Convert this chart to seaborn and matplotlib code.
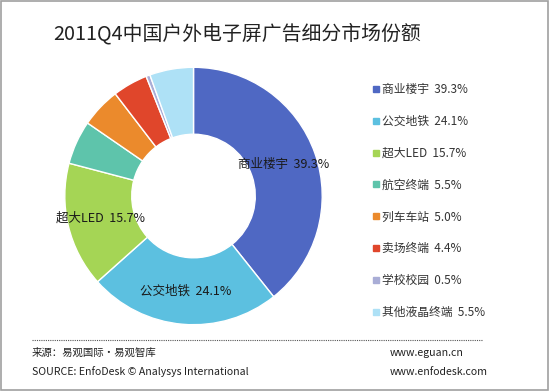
import numpy as np
import seaborn as sns
import matplotlib.pyplot as plt
from matplotlib.lines import Line2D
from matplotlib.patches import Rectangle

# data
categories = ['商业楼宇', '公交地铁', '超大LED', '航空终端', '列车车站', '卖场终端', '学校校园', '其他液晶终端']
shares = [39.3, 24.1, 15.7, 5.5, 5.0, 4.4, 0.5, 5.5]
colors = ['#4f68c3', '#5cc0e0', '#a5d555', '#5ec4ab', '#eb8a2c', '#e0462b', '#a9add6', '#aee1f6']
inner_labels = ['商业楼宇', '公交地铁', '超大LED']

sns.set_theme(style='white')
plt.rcParams['font.family'] = ['Noto Sans CJK SC', 'DejaVu Sans']

fig = plt.figure(figsize=(5.5, 3.91), dpi=100)
fig.patch.set_facecolor('white')

# outer frame
fig.add_artist(Rectangle((0.002, 0.003), 0.995, 0.994, transform=fig.transFigure,
                         fill=False, edgecolor='#a0a0a0', linewidth=1.2))

ax = fig.add_axes([0.1155, 0.1662, 0.4727, 0.665])
wedges, _ = ax.pie(shares, colors=colors, startangle=90, counterclock=False,
                   radius=1, wedgeprops=dict(width=0.52, edgecolor='white', linewidth=1))
ax.set_xlim(-1.01, 1.01)
ax.set_ylim(-1.01, 1.01)
ax.set_aspect('equal')
ax.axis('off')

# labels inside the big wedges
for w, cat, val in zip(wedges, categories, shares):
    if cat in inner_labels:
        mid = np.deg2rad((w.theta1 + w.theta2) / 2)
        r = 0.74
        ax.text(r * np.cos(mid), r * np.sin(mid), f'{cat}  {val}%',
                ha='center', va='center', fontsize=9, color='#1a1a1a')

# title
fig.text(0.096, 0.915, '2011Q4中国户外电子屏广告细分市场份额', fontsize=14.3,
         color='#222222', ha='left', va='center')

# legend
handles = [Line2D([0], [0], marker='s', linestyle='none', markersize=4.5,
                  markerfacecolor=c, markeredgecolor=c) for c in colors]
labels = [f'{c}  {v}%' for c, v in zip(categories, shares)]
fig.legend(handles, labels, loc='upper left', bbox_to_anchor=(0.668, 0.8),
           frameon=False, fontsize=8.5, handlelength=0.6, handletextpad=0.25,
           labelspacing=1.6, borderaxespad=0, labelcolor='#333333')

# footer
fig.add_artist(Line2D([0.058, 0.877], [0.131, 0.131], transform=fig.transFigure,
                      color='#555555', linestyle=(0, (1, 1)), linewidth=0.8))
fig.text(0.058, 0.097, '来源：易观国际·易观智库', fontsize=7.5, color='#222222', va='center')
fig.text(0.058, 0.049, 'SOURCE: EnfoDesk © Analysys International', fontsize=7.6,
         color='#222222', va='center')
fig.text(0.709, 0.097, 'www.eguan.cn', fontsize=7.6, color='#222222', va='center')
fig.text(0.709, 0.049, 'www.enfodesk.com', fontsize=7.6, color='#222222', va='center')

fig.savefig('out.png', dpi=100)
